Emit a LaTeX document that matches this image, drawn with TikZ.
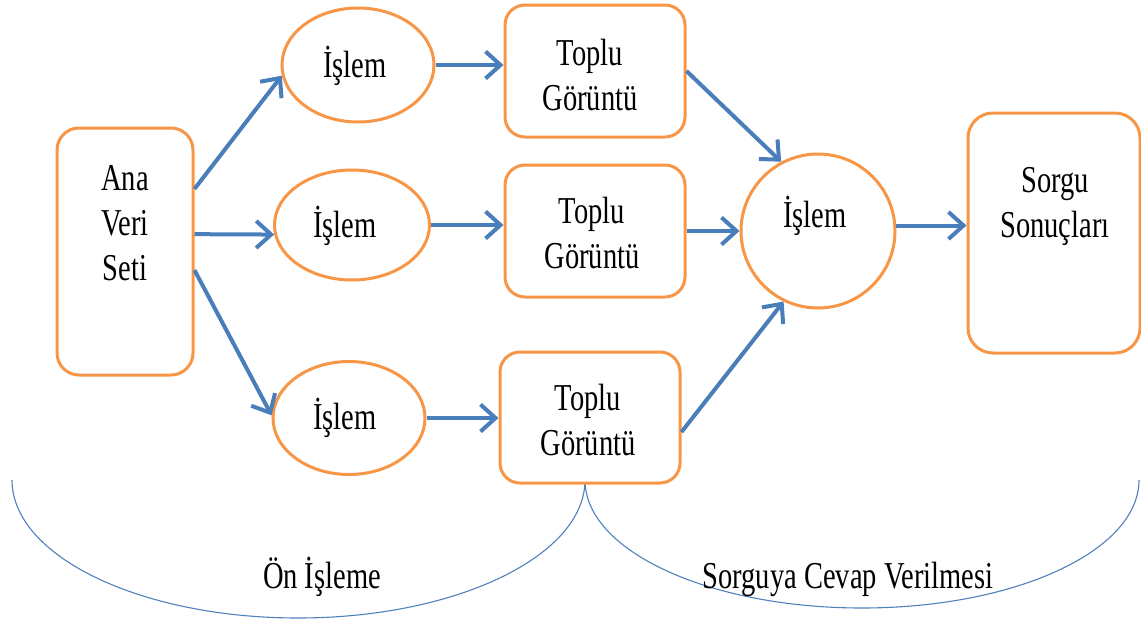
\documentclass[tikz,border=0pt]{standalone}
\usepackage{fontspec}
\setmainfont{Liberation Serif}[FakeStretch=0.75]
\usetikzlibrary{shapes.geometric,arrows.meta}
\definecolor{boxorange}{HTML}{F79646}
\definecolor{flowblue}{HTML}{4A7EBB}
\definecolor{arcblue}{HTML}{4F81BD}
\begin{document}
\begin{tikzpicture}[x=1pt,y=-1pt,
  shapebox/.style={draw=boxorange,line width=3pt,fill=white,rectangle,rounded corners=22pt,inner sep=0pt},
  shapeoval/.style={draw=boxorange,line width=3pt,fill=white,ellipse,inner sep=0pt},
  flow/.style={draw=flowblue,line width=4pt,-{Straight Barb[length=15pt,width=27pt]}},
  bracket/.style={draw=arcblue,line width=1.1pt},
  lbl/.style={font=\fontsize{38}{45}\selectfont,align=center,anchor=base,inner sep=0pt}]
\useasboundingbox (0,0) rectangle (1141,624);

% phase brackets below the flow
\draw[bracket] (12,480) .. controls (12,556) and (140,618) .. (298,618)
               .. controls (456,618) and (585,556) .. (585,480);
\draw[bracket] (585,480) .. controls (585,551) and (709,608) .. (862,608)
               .. controls (1015,608) and (1139,551) .. (1139,480);

% shapes
\node[shapebox,minimum width=136pt,minimum height=247pt] (ana) at (125,251.5) {};
\node[shapeoval,minimum width=152pt,minimum height=114pt] (i1) at (358,65) {};
\node[shapeoval,minimum width=155pt,minimum height=110pt] (i2) at (352,225) {};
\node[shapeoval,minimum width=152pt,minimum height=113pt] (i3) at (349,418) {};
\node[shapebox,rounded corners=20pt,minimum width=180pt,minimum height=132pt] (t1) at (595,71) {};
\node[shapebox,rounded corners=20pt,minimum width=180pt,minimum height=132pt] (t2) at (595,231) {};
\node[shapebox,rounded corners=20pt,minimum width=180pt,minimum height=131pt] (t3) at (590,417.5) {};
\node[shapeoval,circle,minimum size=154pt] (ic) at (818,231) {};
\node[shapebox,rounded corners=25pt,minimum width=172pt,minimum height=240pt] (sq) at (1054,233) {};

% labels (multi-line labels are placed by the baseline of their last line)
\node[lbl] (anaT) at (125,280) {Ana\\Veri\\Seti};
\node[lbl] (i1T) at (355,77) {İşlem};
\node[lbl] (i2T) at (345,237) {İşlem};
\node[lbl] (i3T) at (345,429) {İşlem};
\node[lbl] (t1T) at (590,110) {Toplu\\Görüntü};
\node[lbl] (t2T) at (592,268) {Toplu\\Görüntü};
\node[lbl] (t3T) at (588,455) {Toplu\\Görüntü};
\node[lbl] (icT) at (815,227) {İşlem};
\node[lbl] (sqT) at (1055,237) {Sorgu\\Sonuçları};
\node[lbl] (pre) at (322,588) {Ön İşleme};
\node[lbl] (ans) at (848,588) {Sorguya Cevap Verilmesi};

% connectors
\draw[flow] (ana.42) -- (i1.188);
\draw[flow] (ana.14) -- (i2.187);
\draw[flow] (ana.-15) -- (i3.178);
\draw[flow] (i1.east) -- (i1.east -| t1.west);
\draw[flow] (i2.east) -- (i2.east -| t2.west);
\draw[flow] (i3.east) -- (i3.east -| t3.west);
\draw[flow] (t1.east) -- (ic.118);
\draw[flow] (t2.east) -- (ic.west);
\draw[flow] (t3.-9) -- (ic.244);
\draw[flow] (ic.4) -- (ic.4 -| sq.west);
\end{tikzpicture}
\end{document}
